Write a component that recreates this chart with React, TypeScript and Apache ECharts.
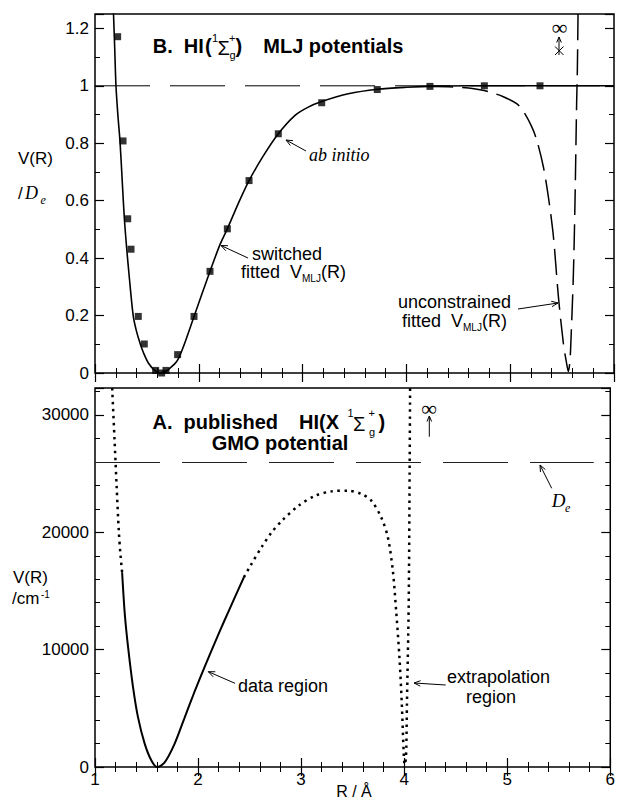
import React, { useEffect, useRef } from "react";
import * as echarts from "echarts";

// ---------- data (R in Å) ----------
const rTickLabels = ["1", "2", "3", "4", "5", "6"];
const topYLabelsMax = 1.25;
const bottomYMax = 32300;

// Panel B: switched fitted V_MLJ(R) / De
const switchedCurve: [number, number][] = [
  [1.172, 1.32], [1.177, 1.264], [1.19, 1.13], [1.202, 1.0], [1.22, 0.9], [1.241, 0.806],
  [1.262, 0.67], [1.283, 0.537], [1.305, 0.435], [1.33, 0.335], [1.369, 0.197], [1.4, 0.145],
  [1.434, 0.104], [1.47, 0.068], [1.514, 0.035], [1.578, 0.008], [1.626, 0.0], [1.67, 0.004],
  [1.706, 0.012], [1.787, 0.04], [1.85, 0.09], [1.954, 0.197], [2.03, 0.275], [2.108, 0.354],
  [2.204, 0.447], [2.275, 0.502], [2.38, 0.59], [2.484, 0.67], [2.62, 0.755], [2.766, 0.833],
  [2.927, 0.897], [3.05, 0.925], [3.184, 0.945], [3.44, 0.972], [3.72, 0.988], [4.0, 0.995],
  [4.3, 0.999], [4.6, 1.0], [6.0, 1.0],
];

// Panel B: ab initio points
const abInitioPoints: [number, number][] = [
  [1.218, 1.171], [1.27, 0.808], [1.315, 0.537], [1.347, 0.431], [1.417, 0.197], [1.475, 0.101],
  [1.584, 0.009], [1.642, 0.0], [1.684, 0.009], [1.796, 0.064], [1.954, 0.197], [2.108, 0.354],
  [2.275, 0.502], [2.484, 0.67], [2.766, 0.833], [3.184, 0.941], [3.719, 0.987], [4.227, 0.998],
  [4.751, 1.0], [5.287, 1.0],
];

// Panel B: unconstrained fitted V_MLJ(R) / De
const unconstrainedCurve: [number, number][] = [
  [4.2, 0.998], [4.45, 0.996], [4.6, 0.992], [4.709, 0.986], [4.805, 0.978], [4.934, 0.962],
  [5.062, 0.938], [5.127, 0.911], [5.207, 0.858], [5.255, 0.812], [5.319, 0.719], [5.367, 0.615],
  [5.416, 0.476], [5.464, 0.267], [5.512, 0.104], [5.545, 0.03], [5.56, 0.005], [5.575, 0.04],
  [5.583, 0.093], [5.608, 0.336], [5.624, 0.592], [5.64, 0.94], [5.647, 1.056], [5.655, 1.3],
];

// Panel B: dissociation limit V = De
const topDeLine: [number, number][] = [[1, 1], [6, 1]];

// Panel A: GMO potential (cm-1)
const gmoDataRegion: [number, number][] = [
  [1.263, 16600], [1.289, 13050], [1.321, 10210], [1.369, 6810], [1.417, 4250], [1.482, 1990],
  [1.546, 570], [1.603, 0], [1.674, 370], [1.771, 1950], [1.867, 4150], [1.963, 6350],
  [2.06, 8450], [2.156, 10450], [2.252, 12400], [2.349, 14300], [2.445, 16170],
];
const gmoExtrapLeft: [number, number][] = [
  [1.16, 33500], [1.168, 32000], [1.19, 27800], [1.21, 23900], [1.231, 20100], [1.247, 18100],
  [1.263, 16600],
];
const gmoExtrapRight: [number, number][] = [
  [2.445, 16170], [2.509, 17160], [2.621, 18800], [2.714, 20000], [2.814, 20990], [2.975, 22270],
  [3.136, 23120], [3.296, 23490], [3.457, 23550], [3.585, 23270], [3.681, 22700], [3.777, 21280],
  [3.842, 19570], [3.89, 16740], [3.922, 13340], [3.954, 9360], [3.977, 5400], [3.996, 1140],
  [4.005, 200], [4.015, 600], [4.021, 1700], [4.027, 5400], [4.044, 13900], [4.053, 25250],
  [4.058, 33000],
];
const gmoDeLine: [number, number][] = [[1, 25950], [5.84, 25950]];

// ---------- styling helpers ----------
const SANS = '"Liberation Sans", Arial, Helvetica, sans-serif';
const SERIF = '"Liberation Serif", "Times New Roman", serif';

const xAxesFor = (grid: number, showLabels: boolean) => {
  const common: any = {
    type: "value", gridIndex: grid, min: 1, max: 6, interval: 1,
    axisLine: { show: false }, splitLine: { show: false }, minorSplitLine: { show: false },
    axisTick: { show: true, inside: true, length: 9, lineStyle: { color: "#000", width: 1.2 } },
    minorTick: { show: true, splitNumber: 5, length: 5, lineStyle: { color: "#000", width: 1 } },
  };
  return [
    {
      ...common, position: "bottom",
      axisLabel: showLabels
        ? { show: true, color: "#000", fontSize: 17, fontFamily: SANS, margin: 4,
            formatter: (v: number) => rTickLabels[Math.round(v) - 1] ?? "" }
        : { show: false },
    },
    { ...common, position: "top", axisLabel: { show: false } },
  ];
};

const yAxesFor = (grid: number, max: number, major: number, minor: number, fmt: (v: number) => string) => {
  const base: any = {
    type: "value", gridIndex: grid, min: 0, max,
    axisLine: { show: false }, splitLine: { show: false },
  };
  const majorTick = { show: true, inside: true, length: 9, lineStyle: { color: "#000", width: 1.2 } };
  const minorTickS = { show: true, inside: true, length: 5, lineStyle: { color: "#000", width: 1 } };
  return [
    { ...base, position: "left", interval: major, axisTick: majorTick,
      axisLabel: { show: true, color: "#000", fontSize: 17, fontFamily: SANS, margin: 6, formatter: fmt } },
    { ...base, position: "left", interval: minor, axisTick: minorTickS, axisLabel: { show: false } },
    { ...base, position: "right", interval: major, axisTick: majorTick, axisLabel: { show: false } },
    { ...base, position: "right", interval: minor, axisTick: minorTickS, axisLabel: { show: false } },
  ];
};

const txt = (text: string, x: number, y: number, font: string, align = "left", extra: any = {}) => ({
  type: "text", z: 100, silent: true,
  style: { text, x, y, font, fill: "#000", align, verticalAlign: "middle",
    textAlign: align, textVerticalAlign: "middle", ...extra },
});

const arrow = (x1: number, y1: number, x2: number, y2: number, head = 7) => {
  const a = Math.atan2(y2 - y1, x2 - x1);
  const s = 0.4;
  const p1 = [x2 - head * Math.cos(a - s), y2 - head * Math.sin(a - s)];
  const p2 = [x2 - head * Math.cos(a + s), y2 - head * Math.sin(a + s)];
  return [
    { type: "line", z: 100, silent: true, shape: { x1, y1, x2, y2 }, style: { stroke: "#000", lineWidth: 1 } },
    { type: "polyline", z: 100, silent: true, shape: { points: [p1, [x2, y2], p2] },
      style: { stroke: "#000", lineWidth: 1, fill: null } },
  ];
};

const line = (x1: number, y1: number, x2: number, y2: number) => ({
  type: "line", z: 100, silent: true, shape: { x1, y1, x2, y2 }, style: { stroke: "#000", lineWidth: 1 },
});

const B20 = `bold 20px ${SANS}`;
const R20 = `20px ${SANS}`;
const R11 = `11px ${SANS}`;
const R17 = `17px ${SANS}`;
const R18 = `18px ${SANS}`;
const R10 = `10px ${SANS}`;

const richSub = {
  a: { fontSize: 18, fontFamily: SANS, lineHeight: 22, verticalAlign: "middle" },
  s: { fontSize: 10, fontFamily: SANS, lineHeight: 10, verticalAlign: "bottom" },
};

export default function App() {
  const ref = useRef<HTMLDivElement>(null);
  useEffect(() => {
    if (!ref.current) return;
    const chart = echarts.init(ref.current, undefined, { renderer: "svg" });

    const topFmt = (v: number) => (Math.abs(v - topYLabelsMax) < 1e-9 ? "" : String(Number(v.toFixed(2))));
    const botFmt = (v: number) => (v === bottomYMax ? "" : String(Math.round(v)));

    const graphics: any[] = [
      // panel B title
      txt("B.  HI", 152.7, 46, B20),
      txt("(", 205, 46, B20),
      txt("1", 212, 37.5, R11),
      txt("Σ", 217.5, 47.5, R20),
      txt("+", 229, 37.5, R11),
      txt("g", 229.5, 55, R11),
      txt(")", 235.5, 46, B20),
      txt("MLJ potentials", 263.3, 46, B20),
      // panel A title
      txt("A.  published", 152.5, 421.5, B20),
      txt("HI", 299, 421.5, B20),
      txt("(X", 319, 421.5, B20),
      txt("1", 347.5, 413, R11),
      txt("Σ", 353, 424, R20),
      txt("+", 368.5, 413, R11),
      txt("g", 369, 432, R11),
      txt(")", 378.5, 421.5, B20),
      txt("GMO potential", 280, 442.5, B20, "center"),
      // y axis names
      txt("V(R)", 18, 158, R17),
      txt("/", 18, 193, R17),
      txt("D", 25, 193, `italic 18px ${SERIF}`),
      txt("e", 40.5, 200, `italic 12px ${SERIF}`),
      txt("V(R)", 13, 577, R17),
      txt("/cm", 12, 598, R17),
      txt("-1", 41, 594, R10),
      txt("R / Å", 354, 791, `16px ${SANS}`, "center"),
      // panel B annotations
      txt("ab initio", 309, 155, `italic 18px ${SERIF}`),
      txt("switched", 252, 254, R18),
      { type: "text", z: 100, silent: true,
        style: { text: "{a|fitted  V}{s|MLJ}{a|(R)}", x: 241, y: 272, rich: richSub, fill: "#000",
          align: "left", verticalAlign: "middle", textAlign: "left", textVerticalAlign: "middle" } },
      txt("unconstrained", 398, 302, R18),
      { type: "text", z: 100, silent: true,
        style: { text: "{a|fitted  V}{s|MLJ}{a|(R)}", x: 402, y: 321, rich: richSub, fill: "#000",
          align: "left", verticalAlign: "middle", textAlign: "left", textVerticalAlign: "middle" } },
      txt("∞", 559.5, 27.5, `22px ${SERIF}`, "center"),
      line(555, 46.5, 563.5, 55),
      line(563.5, 46.5, 555, 55),
      ...arrow(559, 55, 559, 37, 6),
      ...arrow(306, 151, 286, 140),
      ...arrow(248, 258, 221, 245.5),
      ...arrow(518, 309, 558, 303),
      // panel A annotations
      txt("data region", 238, 686, R18),
      txt("extrapolation", 447, 677, R18),
      txt("region", 491, 697, R18, "center"),
      txt("D", 551.7, 500, `italic 19px ${SERIF}`),
      txt("e", 565, 508, `italic 12px ${SERIF}`),
      txt("∞", 429, 408, `22px ${SERIF}`, "center"),
      ...arrow(429.3, 436.7, 429.3, 416, 6),
      ...arrow(235, 683.3, 208.3, 671.7),
      ...arrow(445.7, 685, 414, 683),
      ...arrow(551.7, 488.3, 540, 465),
    ];

    chart.setOption({
      animation: false,
      backgroundColor: "#fff",
      grid: [
        { left: 95, top: 14, width: 519, height: 359, show: true, borderColor: "#000", borderWidth: 1.5, backgroundColor: "transparent" },
        { left: 95, top: 388, width: 519, height: 379, show: true, borderColor: "#000", borderWidth: 1.5, backgroundColor: "transparent" },
      ],
      xAxis: [...xAxesFor(0, false), ...xAxesFor(1, true)],
      yAxis: [
        ...yAxesFor(0, topYLabelsMax, 0.2, 0.1, topFmt),
        ...yAxesFor(1, bottomYMax, 10000, 2000, botFmt),
      ],
      series: [
        { type: "line", xAxisIndex: 0, yAxisIndex: 0, data: topDeLine, showSymbol: false, silent: true,
          lineStyle: { color: "#000", width: 1, type: [55, 20] }, z: 2 },
        { type: "line", xAxisIndex: 0, yAxisIndex: 0, data: unconstrainedCurve, showSymbol: false, silent: true,
          smooth: 0.3, lineStyle: { color: "#000", width: 1.5, type: [26, 9] }, z: 3 },
        { type: "line", xAxisIndex: 0, yAxisIndex: 0, data: switchedCurve, showSymbol: false, silent: true,
          smooth: 0.3, lineStyle: { color: "#000", width: 1.6 }, z: 4 },
        { type: "scatter", xAxisIndex: 0, yAxisIndex: 0, data: abInitioPoints, symbol: "rect", symbolSize: 7,
          itemStyle: { color: "#000" }, silent: true, z: 5 },
        { type: "line", xAxisIndex: 2, yAxisIndex: 4, data: gmoDeLine, showSymbol: false, silent: true,
          lineStyle: { color: "#222", width: 1, type: [65, 22] }, z: 2 },
        { type: "line", xAxisIndex: 2, yAxisIndex: 4, data: gmoExtrapLeft, showSymbol: false, silent: true,
          smooth: 0.3, lineStyle: { color: "#000", width: 2.5, type: [2.5, 4.5] }, z: 3 },
        { type: "line", xAxisIndex: 2, yAxisIndex: 4, data: gmoExtrapRight, showSymbol: false, silent: true,
          smooth: 0.3, lineStyle: { color: "#000", width: 2.5, type: [2.5, 4.5] }, z: 3 },
        { type: "line", xAxisIndex: 2, yAxisIndex: 4, data: gmoDataRegion, showSymbol: false, silent: true,
          smooth: 0.3, lineStyle: { color: "#000", width: 2 }, z: 4 },
      ],
      graphic: graphics,
    });
    return () => chart.dispose();
  }, []);
  return (
    <div
      ref={ref}
      style={{ position: "absolute", left: 0, top: 0, width: 618, height: 800, background: "#fff" }}
    />
  );
}
